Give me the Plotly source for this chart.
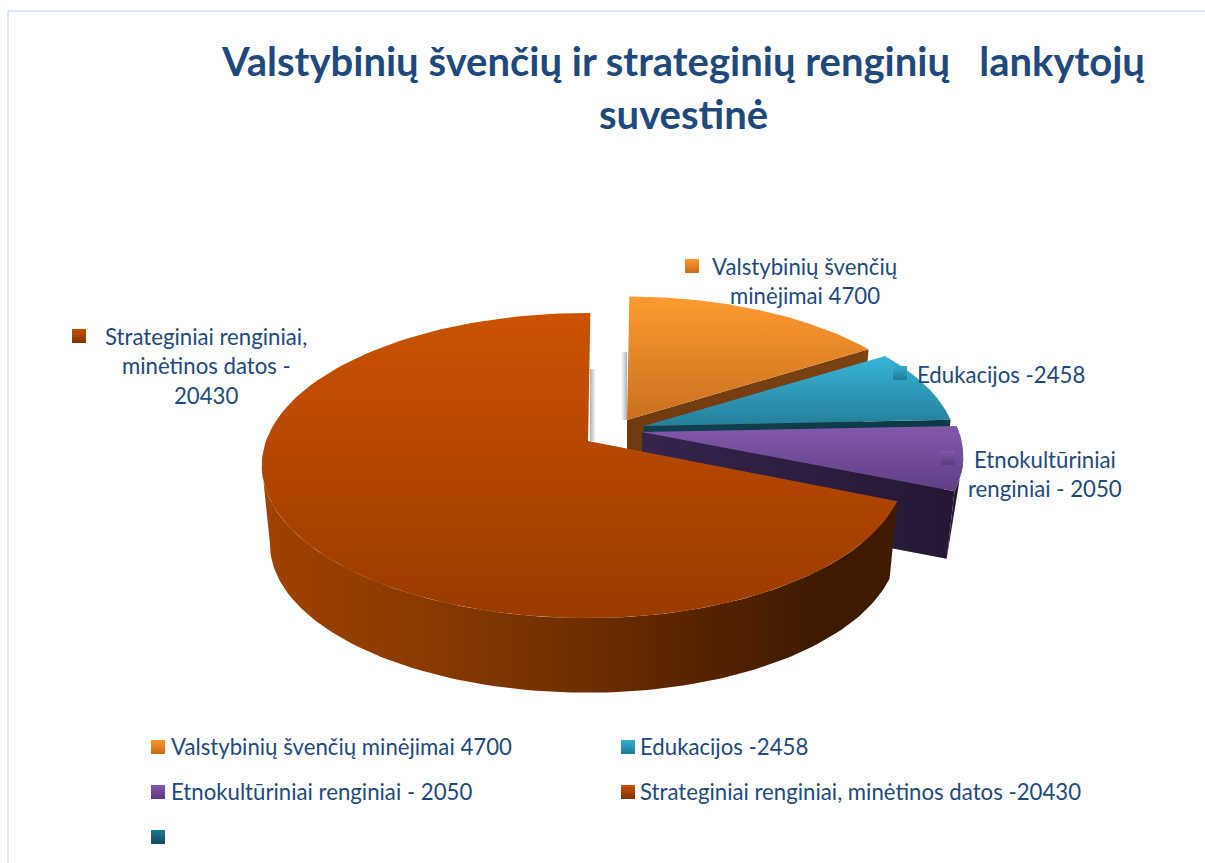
import numpy as np
import plotly.graph_objects as go

# ---- data ----
categories = ["Valstybinių švenčių minėjimai 4700", "Edukacijos -2458",
              "Etnokultūriniai renginiai - 2050", "Strateginiai renginiai, minėtinos datos -20430"]
values = [4700, 2458, 2050, 20430]
title_lines = ["Valstybinių švenčių ir strateginių renginių\u00a0\u00a0\u00a0lankytojų", "suvestinė"]
label_lines = [["Valstybinių švenčių", "minėjimai 4700"], ["Edukacijos -2458"],
               ["Etnokultūriniai", "renginiai - 2050"],
               ["Strateginiai renginiai,", "minėtinos datos -", "20430"]]

# ---- styles / geometry of the 3-D look ----
TOP = [("#c9701f", "#ff9a2f"), ("#247f9a", "#38b4d8"), ("#5f3f85", "#8358ac"), ("#9a3b00", "#cb5100")]
SWATCH = ["#ff962e", "#33aed2", "#8357ac", "#c94f00", "#1a7a94"]
SHADES = ["#c96a1c", "#1f7a96", "#5a3c7e", "#803300", "#124a5c"]
INK = "#1f497d"
FONT = "Lato, Carlito, Calibri, sans-serif"
START = 0.5
K, RX, RY = 0.161, 322.0, 148.6
APEX = {0: (627, 420), 1: (644, 426), 2: (642, 432), 3: (588, 441)}
SCALE = {0: 0.965, 1: 0.96, 2: 0.985, 3: 1.0}
DEPTH = {0: 79, 1: 79, 2: 69, 3: 79}
SHRINK = 0.975
RIGHT_SQUEEZE = 0.975  # main slice: right side of the ellipse is a little narrower

sweep = np.array(values) / sum(values) * 360
ends = START + np.cumsum(sweep)
starts = ends - sweep


def arc(i, a, b, n=120):
    t = np.radians(np.linspace(a, b, n))
    X, Y = np.sin(t), np.cos(t)
    s = SCALE[i] / (1 + K * Y)
    if i == 3:
        X = np.where(X > 0, X * RIGHT_SQUEEZE, X)
    ax, ay = APEX[i]
    return ax + RX * X * s, ay - RY * Y * s


def lower(i, x, y):
    ax, ay = APEX[i]
    return ax + SHRINK * (x - ax), ay + DEPTH[i] + SHRINK * (y - ay)


fig = go.Figure()


def face(x, y, colors, kind="vertical", scale=None):
    if scale is None:
        scale = [[0, colors[0]], [1, colors[1]]]
    fig.add_trace(go.Scatter(x=np.r_[x, x[0]], y=np.r_[y, y[0]], mode="lines", fill="toself",
                             line=dict(width=0), hoverinfo="skip", showlegend=False,
                             fillgradient=dict(type=kind, colorscale=scale)))


def radial_wall(i, t, colors):
    ax, ay = APEX[i]
    ex, ey = arc(i, t, t, 1)
    bx, by = lower(i, np.array([ex[0], ax]), np.array([ey[0], ay]))
    face(np.array([ax, ex[0], bx[0], bx[1]]), np.array([ay, ey[0], by[0], by[1]]), colors, "horizontal")


def top_face(i):
    x, y = arc(i, starts[i], ends[i])
    face(np.r_[APEX[i][0], x], np.r_[APEX[i][1], y], TOP[i])


def soft_shadow(i, width=6, y_skip=0.45):
    # faint shadow falling on the left of a slice's back edge
    ax, ay = APEX[i]
    sx, sy = arc(i, starts[i], starts[i], 1)
    y1 = sy[0] + (ay - sy[0]) * y_skip
    face(np.array([ax - width, ax, ax, ax - width]), np.array([y1, y1, ay, ay]), None, "horizontal",
         [[0, "rgba(120,120,120,0)"], [1, "rgba(110,110,110,0.55)"]])


soft_shadow(0)
# shadow of the big slice's back edge sits to its right
ax3, ay3 = APEX[3]
face(np.array([ax3 + 2, ax3 + 8, ax3 + 8, ax3 + 2]), np.array([ay3 - 72, ay3 - 72, ay3, ay3]), None, "horizontal",
     [[0, "rgba(110,110,110,0.55)"], [1, "rgba(120,120,120,0)"]])

# draw order: back to front
radial_wall(0, ends[0], ("#6e3a10", "#7d4310"))
top_face(0)
radial_wall(1, ends[1], ("#0f3f4f", "#0e3a48"))
top_face(1)
radial_wall(2, ends[2], ("#35244c", "#251733"))
px, py = arc(2, starts[2] + 12, ends[2], 40)
qx, qy = lower(2, px[-1:], py[-1:])
face(np.r_[px, qx], np.r_[py, qy], ("#2a1b3d", "#221530"), "horizontal")
top_face(2)

mx, my = arc(3, starts[3], 261)
nx, ny = lower(3, mx, my)
face(np.r_[mx, nx[::-1]], np.r_[my, ny[::-1]], None, "horizontal",
     [[0, "#a04200"], [0.25, "#8a3a00"], [0.5, "#6f2e00"], [0.75, "#4f2000"], [0.88, "#3d1900"], [1, "#3f1a00"]])
top_face(3)

# swatches next to the data labels and in the legend
lab_x = [692, 900, 948, 79]
lab_y = [266, 373, 458, 336]
leg_x = [158, 628, 158, 628, 158]
leg_y = [747, 747, 792, 792, 837]
for xs, ys, cols, shd in ((lab_x, lab_y, SWATCH[:4], SHADES[:4]), (leg_x, leg_y, SWATCH, SHADES)):
    for x, y, c, d in zip(xs, ys, cols, shd):
        fig.add_trace(go.Scatter(x=[x], y=[y], mode="markers", showlegend=False, hoverinfo="skip",
                                 marker=dict(symbol="square", size=14, color=c, line=dict(width=0),
                                             gradient=dict(type="vertical", color=d))))


def text(x, y, s, size=22.2, bold=False, anchor="center"):
    fig.add_annotation(x=x, y=y, text=f"<b>{s}</b>" if bold else s, showarrow=False, xanchor=anchor,
                       yanchor="middle", xref="x", yref="y",
                       font=dict(family=FONT, size=size, color=INK))


for s, y in zip(title_lines, (61, 114)):
    text(683, y, s, size=40, bold=True)
for lines, cx, y0 in zip(label_lines, (805, 1001, 1045, 206), (266, 374, 459, 336)):
    for j, s in enumerate(lines):
        text(cx, y0 + 29.5 * j, s)
for c, x, y in zip(categories, (169, 638, 169, 638), (746, 746, 791, 791)):
    text(x, y, c, anchor="left")

fig.add_shape(type="line", x0=8, x1=8, y0=863, y1=11, xref="x", yref="y", line=dict(color="#dbe7f8", width=2))
fig.add_shape(type="line", x0=8, x1=1205, y0=11, y1=11, xref="x", yref="y", line=dict(color="#dbe7f8", width=2))

fig.update_layout(width=1205, height=863, margin=dict(l=0, r=0, t=0, b=0), autosize=False,
                  paper_bgcolor="white", plot_bgcolor="white", showlegend=False,
                  xaxis=dict(range=[0, 1205], visible=False, fixedrange=True),
                  yaxis=dict(range=[863, 0], visible=False, fixedrange=True))
fig.write_html("out.html", config=dict(displayModeBar=False),
               post_script="document.body.style.margin='0';document.body.style.overflow='hidden';")
